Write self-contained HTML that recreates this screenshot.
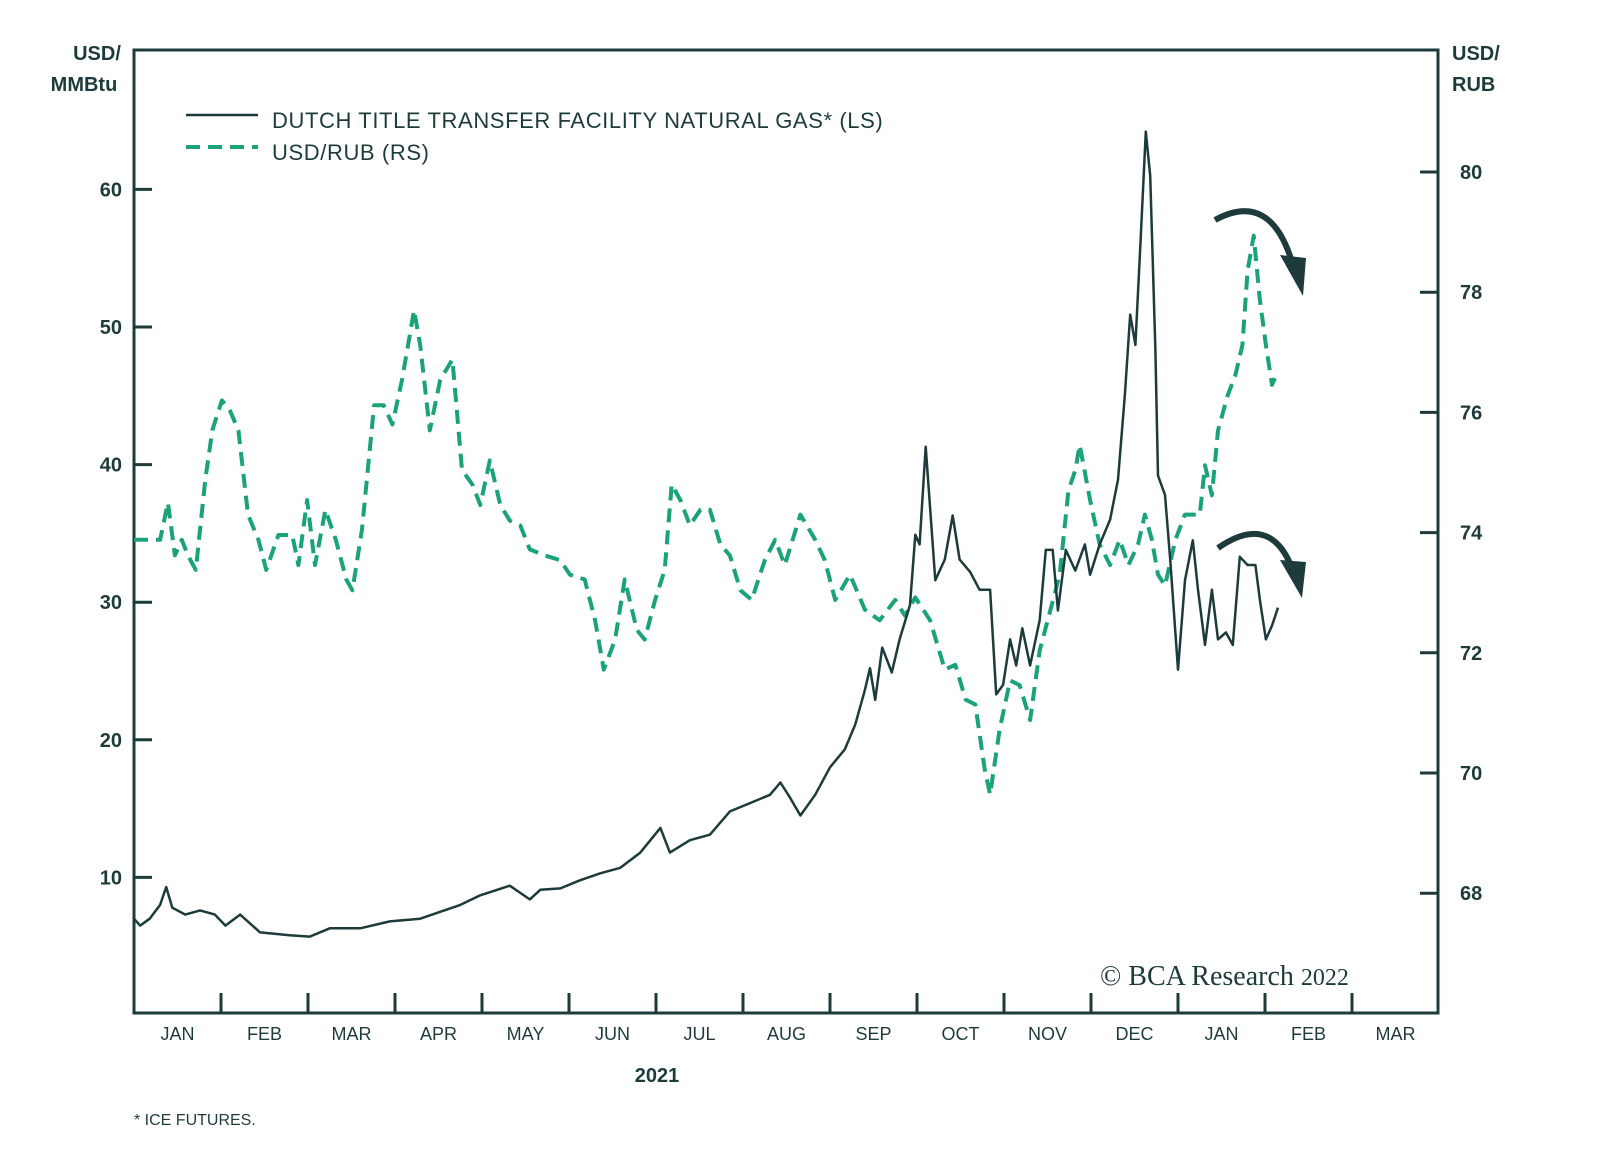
<!DOCTYPE html>
<html><head><meta charset="utf-8"><style>
html,body{margin:0;padding:0;background:#fff;overflow:hidden;}
svg{display:block;font-family:"Liberation Sans",sans-serif;}
</style></head><body>
<svg id="chart" width="1600" height="1163" viewBox="0 0 1600 1163">
<rect x="0" y="0" width="1600" height="1163" fill="#fff"/>
<rect x="134" y="50" width="1304" height="963" fill="none" stroke="#1e3b3b" stroke-width="3"/>
<g fill="#1e3b3b" font-weight="bold" font-size="20">
<text x="97" y="60" text-anchor="middle"><tspan x="97">USD/</tspan><tspan x="84" dy="31">MMBtu</tspan></text>
<text x="1452" y="60"><tspan x="1452">USD/</tspan><tspan x="1452" dy="31">RUB</tspan></text>
<text x="657" y="1082" text-anchor="middle">2021</text>
</g>
<text x="134" y="1125" fill="#1e3b3b" font-size="16">* ICE FUTURES.</text>
<g>
<line x1="186" y1="115" x2="258" y2="115" stroke="#1e3b3b" stroke-width="2.5"/>
<text x="272" y="128" fill="#1e3b3b" font-size="22" letter-spacing="0.6">DUTCH TITLE TRANSFER FACILITY NATURAL GAS* (LS)</text>
<line x1="186" y1="147" x2="258" y2="147" stroke="#1aa37a" stroke-width="4" stroke-dasharray="14,8"/>
<text x="272" y="160" fill="#1e3b3b" font-size="22" letter-spacing="0.6">USD/RUB (RS)</text>
</g>
<text x="1100" y="985" fill="#1e3b3b" font-family="Liberation Serif,serif" font-size="28">© BCA Research <tspan font-size="24">2022</tspan></text>
<g id="axes"></g>
<g id="series"></g>
<g fill="none" stroke="#1e3b3b" stroke-width="6">
<path d="M1215 220 Q1270 190 1292 262"/>
<polygon points="1280,255 1306,258 1303,296" fill="#1e3b3b" stroke="none"/>
<path d="M1218 548 Q1270 512 1292 568"/>
<polygon points="1280,560 1306,562 1302,598" fill="#1e3b3b" stroke="none"/>
</g>
</svg>
<script>
const gasMonths=[0,.07,.18,.30,.37,.44,.59,.76,.93,1.05,1.22,1.45,1.79,2.02,2.25,2.60,2.94,3.29,3.52,3.75,3.98,4.32,4.55,4.67,4.90,5.13,5.36,5.59,5.82,6.05,6.16,6.39,6.62,6.85,7.08,7.31,7.43,7.54,7.66,7.83,8.00,8.17,8.29,8.40,8.46,8.52,8.60,8.71,8.80,8.92,8.98,9.03,9.10,9.21,9.32,9.41,9.49,9.61,9.72,9.84,9.91,9.99,10.07,10.14,10.21,10.30,10.41,10.48,10.56,10.62,10.71,10.82,10.93,10.99,11.10,11.22,11.31,11.39,11.45,11.51,11.57,11.63,11.68,11.74,11.77,11.85,11.91,12.00,12.08,12.17,12.23,12.31,12.39,12.46,12.55,12.63,12.71,12.80,12.89,12.94,13.01,13.08,13.15];
const gasValues=[7.0,6.5,7.0,8.0,9.3,7.8,7.3,7.6,7.3,6.5,7.3,6.0,5.8,5.7,6.3,6.3,6.8,7.0,7.5,8.0,8.7,9.4,8.4,9.1,9.2,9.8,10.3,10.7,11.8,13.6,11.8,12.7,13.1,14.8,15.4,16.0,16.9,15.8,14.5,16.0,18.0,19.3,21.1,23.6,25.2,22.9,26.7,24.9,27.3,29.8,34.9,34.2,41.3,31.6,33.1,36.3,33.1,32.2,30.9,30.9,23.3,24.0,27.3,25.4,28.1,25.4,28.7,33.8,33.8,29.4,33.8,32.3,34.2,32.0,34.2,36.0,38.9,45.1,50.9,48.7,56.3,64.2,61.0,48.3,39.2,37.8,33.1,25.1,31.6,34.5,30.9,26.9,30.9,27.3,27.8,26.9,33.3,32.7,32.7,30.2,27.3,28.3,29.6];
const rubMonths=[0,.30,.39,.47,.55,.62,.71,.82,.90,1.01,1.10,1.20,1.31,1.43,1.52,1.66,1.82,1.89,1.99,2.08,2.20,2.32,2.44,2.51,2.62,2.76,2.87,2.97,3.08,3.22,3.29,3.40,3.52,3.66,3.77,3.89,3.98,4.09,4.21,4.32,4.44,4.55,4.72,4.90,5.01,5.18,5.30,5.40,5.53,5.64,5.78,5.87,5.99,6.10,6.18,6.28,6.39,6.51,6.62,6.74,6.85,6.97,7.10,7.25,7.37,7.48,7.66,7.83,7.94,8.06,8.23,8.40,8.57,8.75,8.86,8.98,9.15,9.32,9.44,9.56,9.67,9.78,9.84,9.95,10.07,10.18,10.30,10.41,10.55,10.64,10.74,10.82,10.87,10.99,11.10,11.22,11.33,11.43,11.54,11.62,11.70,11.77,11.85,11.97,12.08,12.25,12.31,12.39,12.46,12.57,12.66,12.74,12.80,12.87,12.94,13.01,13.08,13.13];
const rubValues=[73.88,73.88,74.50,73.62,73.88,73.62,73.38,74.88,75.70,76.20,76.04,75.70,74.30,73.88,73.38,73.96,73.96,73.46,74.54,73.46,74.38,73.88,73.22,73.04,74.04,76.12,76.12,75.80,76.54,77.70,77.12,75.70,76.54,76.88,75.04,74.80,74.46,75.20,74.46,74.20,74.12,73.72,73.62,73.54,73.30,73.22,72.54,71.72,72.22,73.22,72.38,72.22,72.88,73.38,74.80,74.54,74.12,74.38,74.38,73.80,73.62,73.04,72.88,73.54,73.88,73.46,74.30,73.88,73.54,72.88,73.30,72.72,72.54,72.88,72.62,72.92,72.54,71.72,71.80,71.22,71.14,70.04,69.64,70.72,71.54,71.46,70.88,72.04,72.80,73.30,74.70,75.04,75.46,74.54,73.80,73.46,73.88,73.46,73.80,74.30,73.88,73.30,73.12,73.88,74.30,74.30,75.12,74.62,75.70,76.28,76.62,77.12,78.36,78.94,77.88,77.12,76.46,76.62];
const monthLabels=["JAN","FEB","MAR","APR","MAY","JUN","JUL","AUG","SEP","OCT","NOV","DEC","JAN","FEB","MAR"];
const leftTicks=[10,20,30,40,50,60];
const rightTicks=[68,70,72,74,76,78,80];

const NS="http://www.w3.org/2000/svg";
const xS=m=>134+m*87;
const yL=v=>1015-v*13.76;
const yR=v=>172+(80-v)*60.1;
function mk(tag,attrs,parent,text){const e=document.createElementNS(NS,tag);for(const k in attrs)e.setAttribute(k,attrs[k]);if(text!==undefined)e.textContent=text;parent.appendChild(e);return e;}
const axes=document.getElementById('axes');
const C="#1e3b3b";
monthLabels.forEach((l,i)=>{
  if(i>0){const t=mk('line',{x1:xS(i),x2:xS(i),y1:993,y2:1013,stroke:C,'stroke-width':3},axes);
  
  }
  const tx=mk('text',{x:xS(i+0.5),y:1040,'text-anchor':'middle',fill:C,'font-size':18},axes,l);
  
  
});
leftTicks.forEach(v=>{
  const t=mk('line',{x1:134,x2:152,y1:yL(v),y2:yL(v),stroke:C,'stroke-width':3},axes);
  
  
  const tx=mk('text',{x:122,y:yL(v)+7,'text-anchor':'end',fill:C,'font-size':20,'font-weight':'bold'},axes,v);
  
  
});
rightTicks.forEach(v=>{
  const t=mk('line',{x1:1420,x2:1438,y1:yR(v),y2:yR(v),stroke:C,'stroke-width':3},axes);
  
  
  const tx=mk('text',{x:1460,y:yR(v)+7,fill:C,'font-size':20,'font-weight':'bold'},axes,v);
  
  
});
const ser=document.getElementById('series');
const rubPts=rubMonths.map((m,i)=>xS(m).toFixed(1)+','+yR(rubValues[i]).toFixed(1)).join(' ');
const rl=mk('polyline',{points:rubPts,fill:'none',stroke:'#1aa37a','stroke-width':4,'stroke-dasharray':'14,8','stroke-linejoin':'round'},ser);


const gasPts=gasMonths.map((m,i)=>xS(m).toFixed(1)+','+yL(gasValues[i]).toFixed(1)).join(' ');
const gl=mk('polyline',{points:gasPts,fill:'none',stroke:C,'stroke-width':2.5,'stroke-linejoin':'round'},ser);


</script>
</body></html>
